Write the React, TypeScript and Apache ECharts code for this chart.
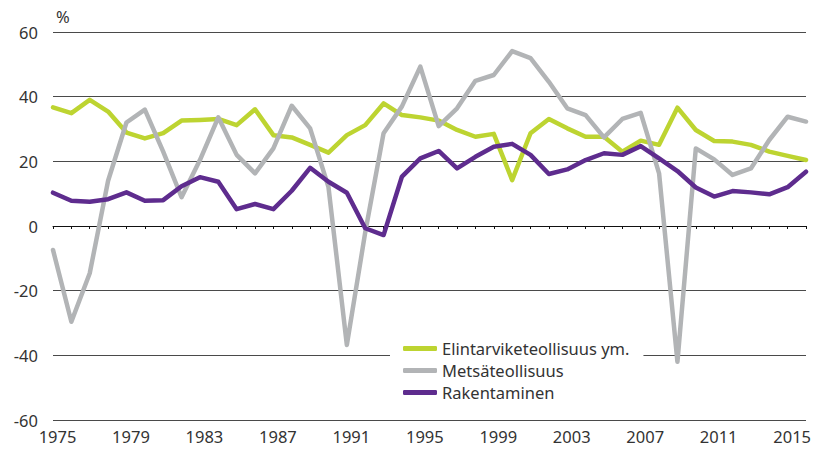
import React, { useEffect, useRef } from "react";
import * as echarts from "echarts";

const years: string[] = [
  "1975","1976","1977","1978","1979","1980","1981","1982","1983","1984",
  "1985","1986","1987","1988","1989","1990","1991","1992","1993","1994",
  "1995","1996","1997","1998","1999","2000","2001","2002","2003","2004",
  "2005","2006","2007","2008","2009","2010","2011","2012","2013","2014",
  "2015","2016",
];

const elintarvike: number[] = [
  36.7, 34.9, 39.0, 35.4, 28.9, 27.1, 28.7, 32.6, 32.8, 33.1,
  31.2, 36.1, 28.1, 27.4, 25.1, 22.7, 28.1, 31.2, 37.9, 34.3,
  33.6, 32.6, 29.7, 27.6, 28.5, 14.2, 28.7, 33.1, 30.2, 27.6,
  27.6, 23.0, 26.4, 25.1, 36.6, 29.7, 26.3, 26.1, 25.1, 23.0,
  21.7, 20.4,
];

const metsa: number[] = [
  -7.4, -29.6, -14.6, 14.0, 32.0, 36.0, 23.0, 8.9, 20.4, 33.6,
  22.0, 16.3, 24.0, 37.2, 30.2, 12.0, -36.8, -2.0, 28.7, 37.0,
  49.3, 30.9, 36.4, 44.9, 46.7, 54.1, 51.9, 44.6, 36.4, 34.3,
  27.4, 33.1, 35.0, 16.3, -42.0, 24.0, 20.6, 15.8, 17.8, 26.6,
  33.8, 32.3,
];

const rakentaminen: number[] = [
  10.3, 7.8, 7.5, 8.3, 10.4, 7.8, 8.0, 12.3, 15.1, 13.7,
  5.2, 6.8, 5.2, 10.9, 18.0, 13.7, 10.3, -0.7, -2.8, 15.3,
  20.9, 23.2, 17.8, 21.4, 24.5, 25.4, 22.0, 16.1, 17.5, 20.4,
  22.5, 22.0, 24.7, 20.9, 17.0, 11.9, 9.1, 10.8, 10.4, 9.8,
  12.0, 16.8,
];

const seriesNames: string[] = ["Elintarviketeollisuus ym.", "Metsäteollisuus", "Rakentaminen"];
const seriesColors: string[] = ["#bdd431", "#b2b4b6", "#5e2c8e"];

const FONT = "'Noto Sans', 'Open Sans', sans-serif";
const FS = 16.5;

export default function App() {
  const ref = useRef<HTMLDivElement>(null);

  useEffect(() => {
    if (!ref.current) return;
    const chart = echarts.init(ref.current, null, { renderer: "svg" });
    const datasets = [elintarvike, metsa, rakentaminen];
    chart.setOption({
      animation: false,
      backgroundColor: "#ffffff",
      textStyle: { fontFamily: FONT },
      title: {
        text: "%",
        left: 51,
        top: 3,
        textStyle: { fontFamily: FONT, fontSize: FS, fontWeight: "normal", color: "#333333" },
      },
      grid: { left: 53, right: 22, top: 32, bottom: 29, containLabel: false },
      legend: {
        orient: "vertical",
        left: 390,
        top: 335,
        padding: [5, 14, 5, 13],
        backgroundColor: "#ffffff",
        itemWidth: 34,
        itemHeight: 5,
        itemGap: 5,
        icon: "roundRect",
        data: seriesNames,
        textStyle: { fontFamily: FONT, fontSize: FS, color: "#333333", lineHeight: 17 },
      },
      xAxis: [
        {
          type: "category",
          data: years,
          boundaryGap: false,
          axisLine: { show: true, onZero: true, lineStyle: { color: "#111111", width: 1 } },
          axisTick: { show: true, length: 3, interval: 0, lineStyle: { color: "#111111" } },
          axisLabel: { show: false },
          splitLine: { show: false },
        },
        {
          type: "category",
          data: years,
          boundaryGap: false,
          position: "bottom",
          axisLine: { show: false, onZero: false },
          axisTick: { show: false },
          axisLabel: {
            show: true,
            interval: 3,
            margin: 8,
            fontFamily: FONT,
            fontSize: FS,
            color: "#333333",
            padding: [0, 0, 0, 9],
          },
          splitLine: { show: false },
        },
      ],
      yAxis: {
        type: "value",
        min: -60,
        max: 60,
        interval: 20,
        axisLine: { show: false },
        axisTick: { show: false },
        axisLabel: { margin: 15, fontFamily: FONT, fontSize: FS, color: "#333333" },
        splitLine: { show: true, lineStyle: { color: "#4a4a4a", width: 1 } },
      },
      series: seriesNames.map((name, i) => ({
        name,
        type: "line",
        xAxisIndex: 0,
        data: datasets[i],
        symbol: "none",
        showSymbol: false,
        color: seriesColors[i],
        lineStyle: { color: seriesColors[i], width: 4.5, cap: "round", join: "round" },
        itemStyle: { color: seriesColors[i] },
      })),
    });
    return () => chart.dispose();
  }, []);

  return (
    <div
      ref={ref}
      style={{ position: "fixed", left: 0, top: 0, width: 828, height: 449 }}
    />
  );
}
